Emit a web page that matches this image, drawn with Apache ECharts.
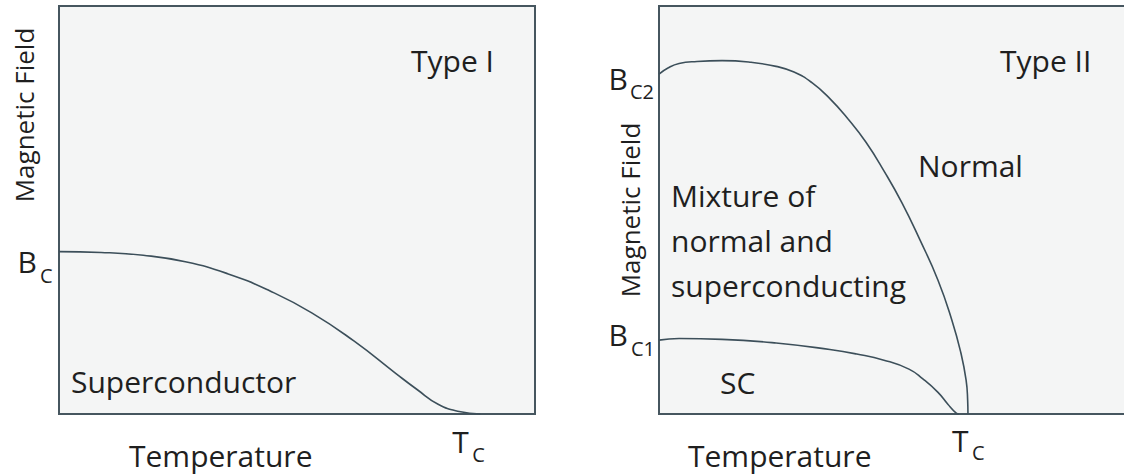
<!DOCTYPE html>
<html><head><meta charset="utf-8">
<script src="https://cdn.jsdelivr.net/npm/echarts@6/dist/echarts.min.js"></script>
<style>html,body{margin:0;padding:0;background:#fff}#c{width:1124px;height:476px}</style>
</head><body><div id="c"></div>
<script>
// ---- data (temperature in units of Tc, field in % of frame height) ----
const type1Temp  = [0, 0.1, 0.2, 0.3, 0.4, 0.5, 0.6, 0.7, 0.8, 0.85, 0.9, 0.95, 1.0];
const type1Field = [39.8, 39.6, 38.9, 37.3, 34.4, 30.2, 24.8, 17.9, 9.9, 6.0, 2.4, 0.6, 0];

const bc2Temp  = [0, 0.029, 0.065, 0.123, 0.204, 0.298, 0.379, 0.437, 0.495, 0.553, 0.612, 0.670, 0.728, 0.786, 0.845, 0.903, 0.948, 0.977, 0.994, 0.999, 1.0];
const bc2Field = [83.3, 84.8, 85.9, 86.4, 86.6, 86.2, 85.2, 83.8, 81.2, 77.3, 72.3, 66.6, 59.6, 51.8, 42.6, 32.8, 23.0, 15.0, 8.3, 3.4, 0];

const bc1Temp  = [0, 0.065, 0.204, 0.379, 0.553, 0.64, 0.728, 0.809, 0.854, 0.903, 0.935, 0.961, 0.971];
const bc1Field = [18.1, 18.5, 18.3, 17.4, 15.8, 14.7, 13.2, 11.0, 8.6, 5.3, 2.4, 0.3, 0];

const criticalTemp = 1;
const type1Bc = 39.8;
const type2Bc2 = 83.3;
const type2Bc1 = 18.1;

const xName = 'Temperature';
const yName = 'Magnetic Field';
const panelTitles = ['Type I', 'Type II'];
const type1Region = 'Superconductor';
const type2Regions = ['Normal', 'Mixture of', 'normal and', 'superconducting', 'SC'];

// ---- chart ----
const zip = (a, b) => a.map((v, i) => [v, b[i]]);
const FONT = '"Open Sans", sans-serif';
const TXT = '#1f1f1f';
const LINE = '#3c4f5a';
const BORDER = '#46565f';
const FILL = '#f4f5f5';

const chart = echarts.init(document.getElementById('c'), null, {renderer: 'svg'});

const gridBase = {top: 6, height: 408, show: true, backgroundColor: FILL, borderColor: BORDER, borderWidth: 2, outerBoundsMode: 'none', containLabel: false};
const lineSeries = (xi, data) => ({
  type: 'line', xAxisIndex: xi, yAxisIndex: xi, data, showSymbol: false, smooth: 0.5,
  lineStyle: {color: LINE, width: 1.6}, silent: true, clip: false
});

chart.setOption({
  animation: false,
  backgroundColor: '#ffffff',
  grid: [
    Object.assign({left: 59, width: 476}, gridBase),
    Object.assign({left: 659, width: 469}, gridBase)
  ],
  xAxis: [
    {type: 'value', gridIndex: 0, min: 0, max: 1.13, show: false},
    {type: 'value', gridIndex: 1, min: 0, max: 1.518, show: false}
  ],
  yAxis: [
    {type: 'value', gridIndex: 0, min: 0, max: 100, show: false},
    {type: 'value', gridIndex: 1, min: 0, max: 100, show: false}
  ],
  series: [
    lineSeries(0, zip(type1Temp, type1Field)),
    lineSeries(1, zip(bc2Temp, bc2Field)),
    lineSeries(1, zip(bc1Temp, bc1Field))
  ]
});

const px = (gi, x, y) => chart.convertToPixel({gridIndex: gi}, [x, y]);
const txt = (text, x, y, size, align, extra) => Object.assign({
  type: 'text', x, y, silent: true,
  style: {text, fill: TXT, font: size + 'px ' + FONT, fontSize: size, fontFamily: FONT,
          align: align, textAlign: align, verticalAlign: 'middle', textVerticalAlign: 'middle'}
}, extra || {});

const g = [];
// axis names
g.push(txt(yName, 24, 115, 26, 'center', {rotation: Math.PI / 2}));
g.push(txt(yName, 630, 210, 26, 'center', {rotation: Math.PI / 2}));
g.push(txt(xName, 129, 455, 30, 'left'));
g.push(txt(xName, 688, 455, 30, 'left'));
// Tc labels
let q = px(0, criticalTemp, 0);
g.push(txt('T', q[0] - 28, q[1] + 27, 30, 'left'));
g.push(txt('C', q[0] - 8, q[1] + 40, 20, 'left'));
q = px(1, criticalTemp, 0);
g.push(txt('T', q[0] - 16, q[1] + 26, 30, 'left'));
g.push(txt('C', q[0] + 4, q[1] + 38, 20, 'left'));
// B labels
q = px(0, 0, type1Bc);
g.push(txt('B', q[0] - 22, q[1] + 10, 30, 'right'));
g.push(txt('C', q[0] - 19, q[1] + 24, 20, 'left'));
q = px(1, 0, type2Bc2);
g.push(txt('B', q[0] - 31, q[1] + 4, 30, 'right'));
g.push(txt('C2', q[0] - 29, q[1] + 17, 20, 'left'));
q = px(1, 0, type2Bc1);
g.push(txt('B', q[0] - 31, q[1] - 6, 30, 'right'));
g.push(txt('C1', q[0] - 28, q[1] + 8, 20, 'left'));
// panel titles and region labels
g.push(txt(panelTitles[0], 411, 60, 30, 'left'));
g.push(txt(panelTitles[1], 1000, 60, 30, 'left'));
g.push(txt(type1Region, 71, 381, 30, 'left'));
g.push(txt(type2Regions[0], 918, 165, 30, 'left'));
g.push(txt(type2Regions[1], 671, 195, 30, 'left'));
g.push(txt(type2Regions[2], 671, 240, 30, 'left'));
g.push(txt(type2Regions[3], 671, 285, 30, 'left'));
g.push(txt(type2Regions[4], 720, 382, 30, 'left'));

chart.setOption({graphic: {elements: g}});
</script>
</body></html>
